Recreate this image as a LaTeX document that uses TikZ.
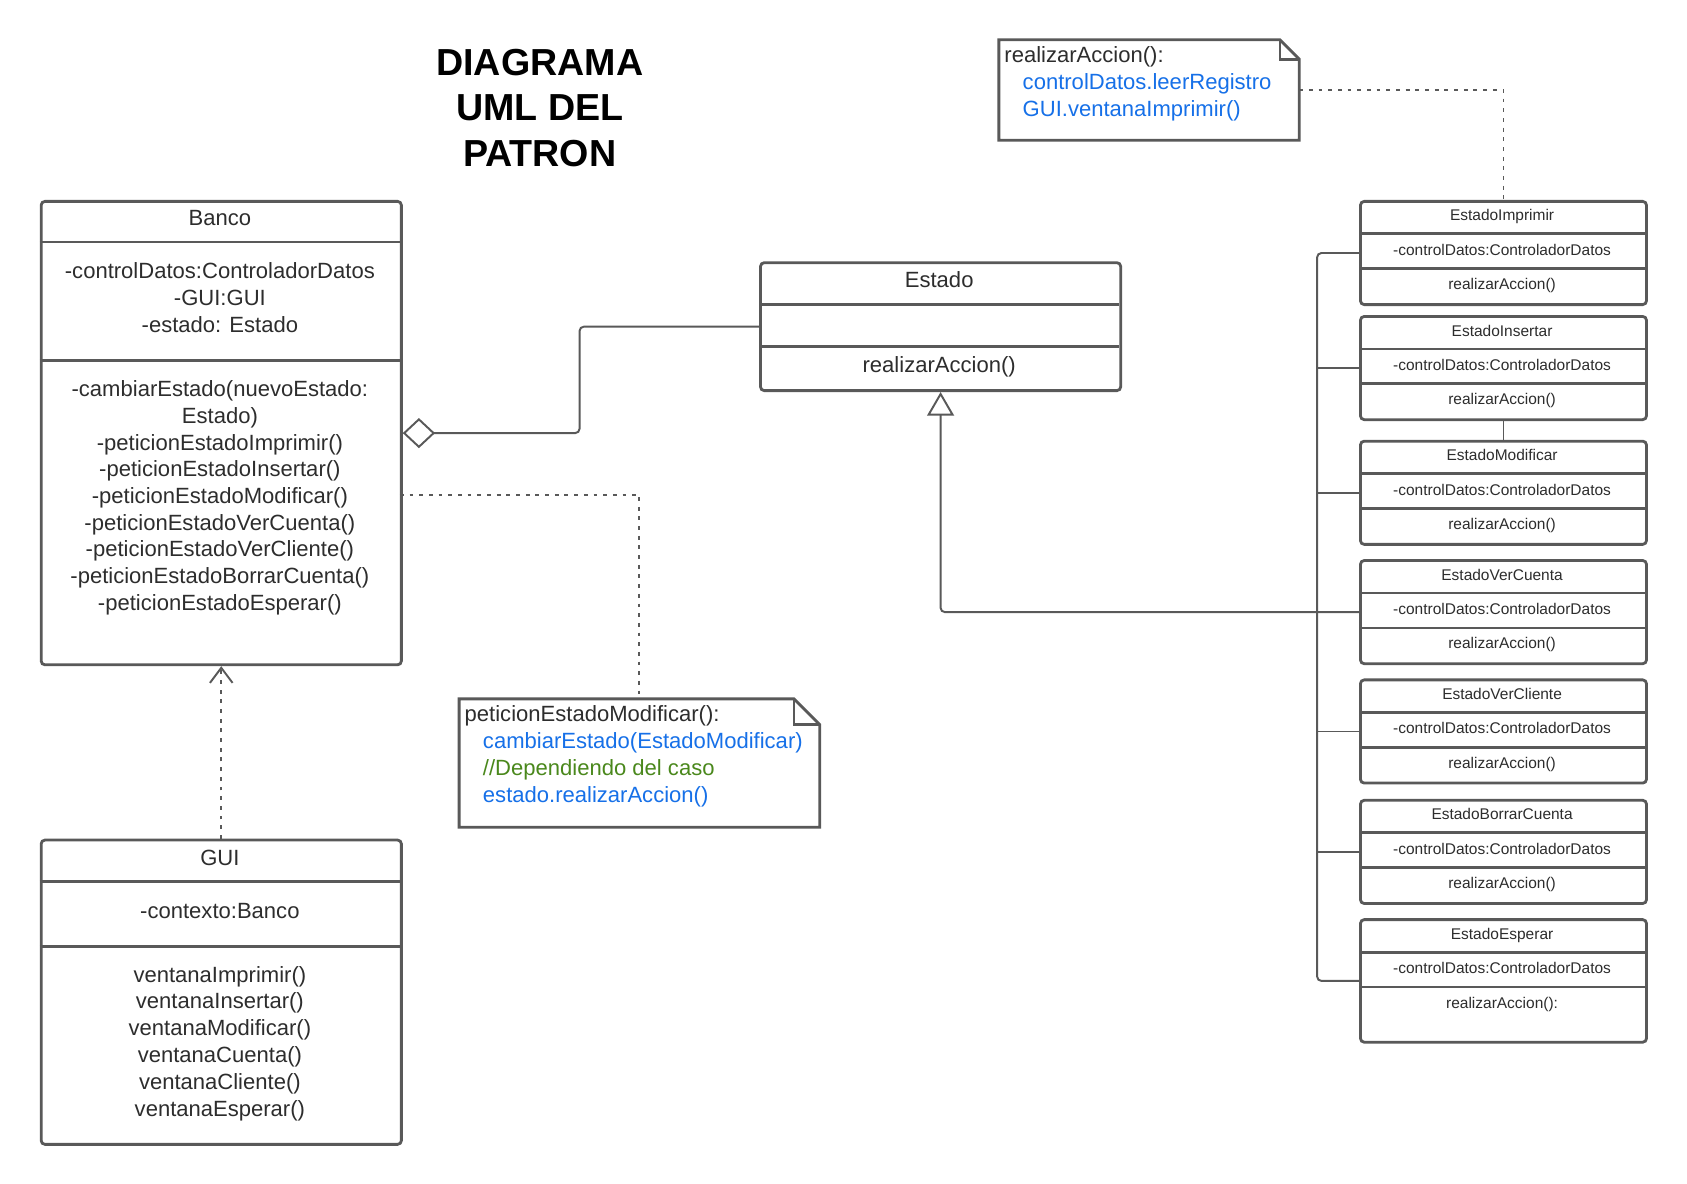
\documentclass[tikz,border=0pt]{standalone}
\usepackage{fontspec}
\setmainfont{Liberation Sans}
\usetikzlibrary{arrows.meta,calc}
\definecolor{ln}{RGB}{89,89,89}
\definecolor{tx}{RGB}{45,45,45}
\definecolor{bl}{RGB}{22,112,232}
\definecolor{gr}{RGB}{74,136,28}
\tikzset{
  umlbox/.style={draw=ln, line width=2.6pt, rounded corners=3.5pt, fill=white, inner sep=0pt, anchor=north west},
  divider/.style={draw=ln, line width=2.6pt},
  conn/.style={draw=ln, line width=1.8pt, rounded corners=4pt},
  dep/.style={draw=ln, line width=1.8pt, dash pattern=on 3.5pt off 5.5pt},
  notebox/.style={inner sep=0pt, anchor=north west},
  noteline/.style={draw=ln, line width=2.6pt, line join=miter},
  big/.style={font=\fontsize{20.5}{24.8}\selectfont, text=tx, anchor=base, inner sep=0pt},
  small/.style={font=\fontsize{14.4}{17}\selectfont, text=tx, anchor=base, inner sep=0pt},
  title/.style={font=\fontsize{35}{42}\selectfont\bfseries, text=black, anchor=base, inner sep=0pt},
}
\begin{document}
\begin{tikzpicture}[x=1pt,y=-1pt]
\useasboundingbox (0,0) rectangle (1569,1101);
\fill[white] (0,0) rectangle (1569,1101);

% Title
\node[title] (t1) at (502,70.5) {DIAGRAMA};
\node[title] (t2) at (502,112.5) {UML DEL};
\node[title] (t3) at (502,154.5) {PATRON};

% Banco
\node[umlbox, minimum width=335pt, minimum height=431pt] (banco) at (37,186) {};
\draw[divider] (37,225) -- (372,225);
\draw[divider] (37,335) -- (372,335);
\node[big] (bn) at (204.5,210) {Banco};
\foreach \t [count=\i] in {{-controlDatos:ControladorDatos},{-GUI:GUI},{-estado: Estado}}
  \node[big] (ba\i) at (204.5,{259+(\i-1)*24.9}) {\t};
\foreach \t [count=\i] in {{-cambiarEstado(nuevoEstado:},{Estado)},{-peticionEstadoImprimir()},{-peticionEstadoInsertar()},{-peticionEstadoModificar()},{-peticionEstadoVerCuenta()},{-peticionEstadoVerCliente()},{-peticionEstadoBorrarCuenta()},{-peticionEstadoEsperar()}}
  \node[big] (bm\i) at (204.5,{369+(\i-1)*24.8}) {\t};

% GUI
\node[umlbox, minimum width=335pt, minimum height=283pt] (gui) at (37,780) {};
\draw[divider] (37,820) -- (372,820);
\draw[divider] (37,880) -- (372,880);
\node[big] (gn) at (204.5,804.5) {GUI};
\node[big] (ga) at (204.5,854.5) {-contexto:Banco};
\foreach \t [count=\i] in {{ventanaImprimir()},{ventanaInsertar()},{ventanaModificar()},{ventanaCuenta()},{ventanaCliente()},{ventanaEsperar()}}
  \node[big] (gm\i) at (204.5,{913.5+(\i-1)*24.9}) {\t};

% Estado
\node[umlbox, minimum width=335pt, minimum height=119pt] (estado) at (706,243) {};
\draw[divider] (706,283) -- (1041,283);
\draw[divider] (706,322) -- (1041,322);
\node[big] (en) at (873.5,267) {Estado};
\node[big] (em) at (873.5,346.5) {realizarAccion()};

% Right-hand state classes
\foreach \nm/\lbl/\top/\h/\op in {eimp/EstadoImprimir/186/96/{realizarAccion()},eins/EstadoInsertar/293/96/{realizarAccion()},emod/EstadoModificar/409/96/{realizarAccion()},evc/EstadoVerCuenta/520/96/{realizarAccion()},evcl/EstadoVerCliente/631/96/{realizarAccion()},ebc/EstadoBorrarCuenta/743/96/{realizarAccion()},eesp/EstadoEsperar/854/114/{realizarAccion():}}{
  \node[umlbox, minimum width=266pt, minimum height=\h pt] (\nm) at (1264,\top) {};
  \draw[divider] (1264,\top+31.5) -- (1530,\top+31.5);
  \draw[divider] (1264,\top+64) -- (1530,\top+64);
  \node[small] (\nm-n) at (1397,\top+19.5) {\lbl};
  \node[small] (\nm-a) at (1397,\top+51.5) {-controlDatos:ControladorDatos};
  \node[small] (\nm-o) at (1397,\top+83.5) {\op};
}

% Note 1
\node[notebox, minimum width=279pt, minimum height=93pt] (note1) at (929,37) {};
\draw[noteline] (note1.north west) -- ($(note1.north east)+(-18,0)$) -- ($(note1.north east)+(0,18)$) -- (note1.south east) -- (note1.south west) -- cycle;
\draw[noteline] ($(note1.north east)+(-18,0)$) -- ++(0,18) -- ($(note1.north east)+(0,18)$);
\node[big, anchor=base west] (n1a) at (934,58) {realizarAccion():};
\node[big, anchor=base west, text=bl] (n1b) at (951,83) {controlDatos.leerRegistro};
\node[big, anchor=base west, text=bl] (n1c) at (951,108) {GUI.ventanaImprimir()};

% Note 2
\node[notebox, minimum width=335pt, minimum height=119pt] (note2) at (427,650) {};
\draw[noteline] (note2.north west) -- ($(note2.north east)+(-24,0)$) -- ($(note2.north east)+(0,24)$) -- (note2.south east) -- (note2.south west) -- cycle;
\draw[noteline] ($(note2.north east)+(-24,0)$) -- ++(0,24) -- ($(note2.north east)+(0,24)$);
\node[big, anchor=base west] (n2a) at (432,671) {peticionEstadoModificar():};
\node[big, anchor=base west, text=bl] (n2b) at (449,696) {cambiarEstado(EstadoModificar)};
\node[big, anchor=base west, text=gr] (n2c) at (449,721) {//Dependiendo del caso};
\node[big, anchor=base west, text=bl] (n2d) at (449,746) {estado.realizarAccion()};

% Connectors
\draw[conn, -{Diamond[open, length=30pt, width=28pt, line width=1.8pt]}] (estado.west) -- ++(-167,0) |- (banco.east);
\draw[dep, -{Straight Barb[length=14pt, width=21pt, line width=1.8pt]}] (gui.north) -- (banco.south);
\coordinate (d1) at (372,460);
\draw[dep] (d1) -| (note2.north);
\draw[dep] (note1.east) -| (eimp.north);
\draw[conn, -{Triangle[open, length=22pt, width=25pt, line width=1.8pt]}] (evc.west) -| (estado.south);
\draw[conn] (eimp.west) -- ++(-39,0) |- (eesp.west);
\foreach \b in {eins,emod,evcl,ebc}
  \draw[conn] (\b.west) -- ++(-39,0);
\draw[conn] (eins.south) -- (emod.north);
\end{tikzpicture}
\end{document}
